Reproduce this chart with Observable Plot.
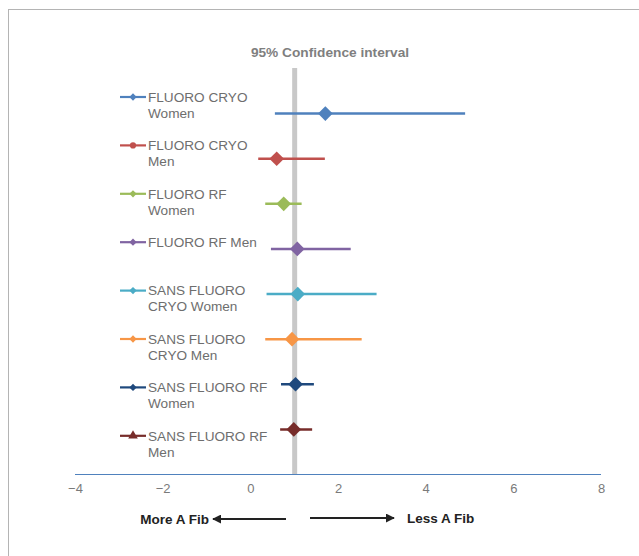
<!DOCTYPE html>
<html>
<head>
<meta charset="utf-8">
<script src="https://cdn.jsdelivr.net/npm/d3@7"></script>
<script src="https://cdn.jsdelivr.net/npm/@observablehq/plot@0.6"></script>
<style>
  html, body { margin: 0; padding: 0; background: #fff; overflow: hidden; }
  #wrap { position: relative; width: 639px; height: 556px; }
  #border { position: absolute; left: 8px; top: 9px; width: 700px; height: 700px;
            border-left: 1.5px solid #b4b4b4; border-top: 1.5px solid #b4b4b4; }
  #chart { position: absolute; left: 0; top: 0; }
  svg { font-family: "Liberation Sans", Arial, sans-serif; }
</style>
</head>
<body>
<div id="wrap"><div id="border"></div><div id="chart"></div></div>
<script>
// ---- data (top to bottom) ----
const categories = [
  "FLUORO CRYO Women", "FLUORO CRYO Men", "FLUORO RF Women", "FLUORO RF Men",
  "SANS FLUORO CRYO Women", "SANS FLUORO CRYO Men", "SANS FLUORO RF Women", "SANS FLUORO RF Men"
];
const legendLines = [
  ["FLUORO CRYO", "Women"], ["FLUORO CRYO", "Men"], ["FLUORO RF", "Women"], ["FLUORO RF Men"],
  ["SANS FLUORO", "CRYO Women"], ["SANS FLUORO", "CRYO Men"], ["SANS FLUORO RF", "Women"], ["SANS FLUORO RF", "Men"]
];
const estimates = [1.70, 0.59, 0.75, 1.06, 1.07, 0.94, 1.02, 0.98];
const lower     = [0.56, 0.18, 0.34, 0.47, 0.37, 0.34, 0.70, 0.68];
const upper     = [4.90, 1.70, 1.17, 2.29, 2.88, 2.54, 1.45, 1.41];
const rowPos    = [8, 7, 6, 5, 4, 3, 2, 1];
const colors    = ["#4F81BD", "#C0504D", "#9BBB59", "#8064A2", "#4BACC6", "#F79646", "#1F497D", "#772C2A"];
const legendSymbols = ["diamond", "circle", "diamond", "diamond", "diamond", "diamond", "diamond", "triangle"];
const xTicks = [-4, -2, 0, 2, 4, 6, 8];
const referenceValue = [1];
const title = "95% Confidence interval";
const leftNote = "More A Fib";
const rightNote = "Less A Fib";

const rows = categories.map((c, i) => ({
  cat: c, est: estimates[i], lo: lower[i], hi: upper[i], y: rowPos[i], color: colors[i]
}));

const chart = Plot.plot({
  width: 639,
  height: 556,
  marginLeft: 75,
  marginRight: 38,
  marginTop: 68,
  marginBottom: 82,
  style: { fontFamily: "Liberation Sans, Arial, sans-serif", background: "transparent", overflow: "visible" },
  x: { domain: [-4, 8], ticks: xTicks, tickSize: 0, tickPadding: 9, label: null },
  y: { domain: [0, 9], axis: null },
  marks: [
    Plot.ruleX(referenceValue, { x: d => d, y1: 0, y2: 9, stroke: "#c8c8c8", strokeWidth: 5 }),
    Plot.ruleY([0], { stroke: "#4F81BD", strokeWidth: 1.2 }),
    Plot.ruleY(rows, { y: "y", x1: "lo", x2: "hi", stroke: "color", strokeWidth: 2.5 }),
    Plot.dot(rows, { x: "est", y: "y", symbol: "diamond2", r: 6.6, fill: "color", stroke: "none" })
  ]
});
document.getElementById("chart").appendChild(chart);

const svg = d3.select(chart);
svg.selectAll("g[aria-label='x-axis tick label'] text, g[aria-label='x-axis tick label']")
  .attr("fill", "#7a7a7a").style("font-size", "13px");

// Title
svg.append("text")
  .attr("x", 330).attr("y", 52).attr("dy", "0.35em")
  .attr("text-anchor", "middle")
  .attr("fill", "#7f7f7f").attr("font-weight", "bold")
  .style("font-size", "13.7px")
  .text(title);

// Legend
const legendG = svg.append("g").attr("text-anchor", "start");
legendLines.forEach((lines, i) => {
  const ly = 97 + i * 48.4;
  const g = legendG.append("g");
  g.append("line").attr("x1", 120).attr("x2", 146).attr("y1", ly).attr("y2", ly)
    .attr("stroke", colors[i]).attr("stroke-width", 2.2);
  const sym = legendSymbols[i] === "circle" ? d3.symbolCircle
            : legendSymbols[i] === "triangle" ? d3.symbolTriangle : d3.symbolDiamond2;
  const size = legendSymbols[i] === "circle" ? 30 : legendSymbols[i] === "triangle" ? 40 : 34;
  g.append("path").attr("d", d3.symbol(sym, size)())
    .attr("transform", `translate(133,${ly})`).attr("fill", colors[i]);
  lines.forEach((t, j) => {
    g.append("text").attr("x", 148).attr("y", ly + j * 16).attr("dy", "0.35em")
      .attr("text-anchor", "start")
      .attr("fill", "#6e6e6e").style("font-size", "13.6px").text(t);
  });
});

// Direction arrows
const defs = svg.append("defs");
defs.append("marker").attr("id", "ah").attr("viewBox", "0 0 10 10")
  .attr("refX", 9).attr("refY", 5).attr("markerWidth", 4.5).attr("markerHeight", 4.5)
  .attr("markerUnits", "strokeWidth").attr("orient", "auto")
  .append("path").attr("d", "M0,0 L10,5 L0,10 Z").attr("fill", "#222");
svg.append("line").attr("x1", 286).attr("x2", 213).attr("y1", 519).attr("y2", 519)
  .attr("stroke", "#222").attr("stroke-width", 2).attr("marker-end", "url(#ah)");
svg.append("line").attr("x1", 310).attr("x2", 394).attr("y1", 518).attr("y2", 518)
  .attr("stroke", "#222").attr("stroke-width", 2).attr("marker-end", "url(#ah)");
svg.append("text").attr("x", 209).attr("y", 519).attr("dy", "0.35em").attr("text-anchor", "end")
  .attr("fill", "#222").attr("font-weight", "bold").style("font-size", "13.5px").text(leftNote);
svg.append("text").attr("x", 407).attr("y", 518).attr("dy", "0.35em").attr("text-anchor", "start")
  .attr("fill", "#222").attr("font-weight", "bold").style("font-size", "13.5px").text(rightNote);
</script>
</body>
</html>
